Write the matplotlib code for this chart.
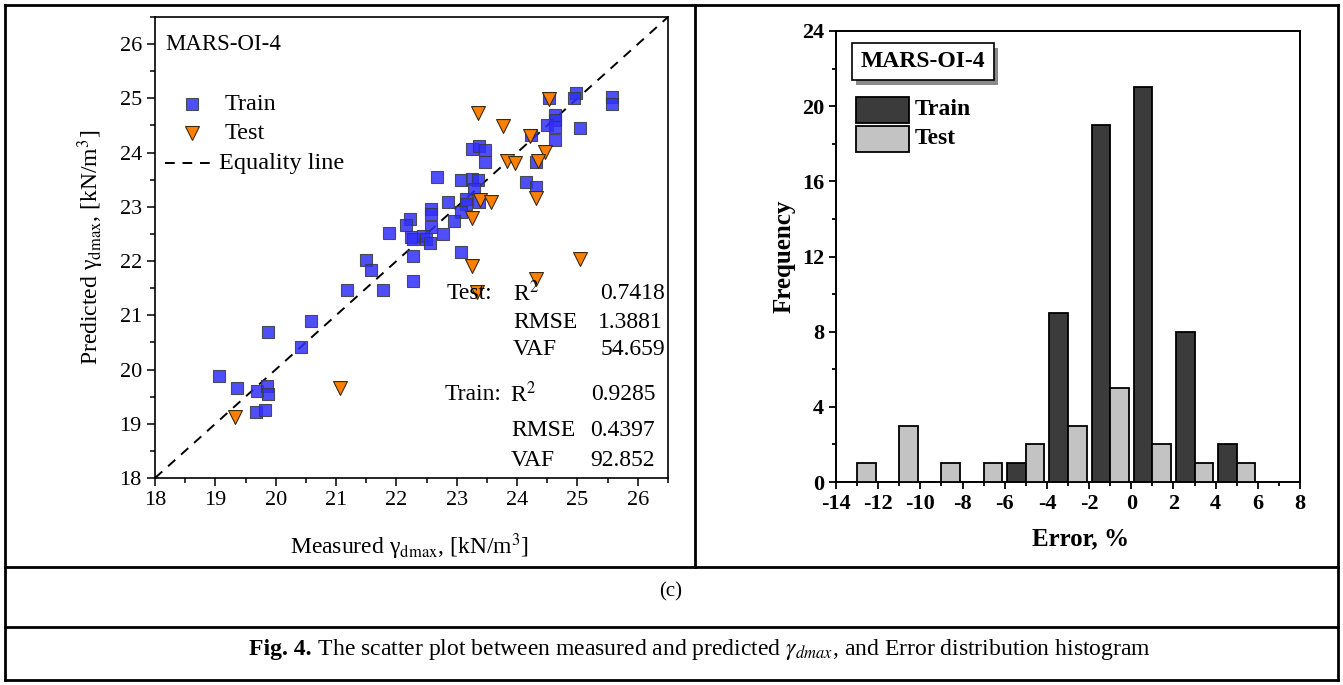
import numpy as np
import matplotlib
matplotlib.use("Agg")
import matplotlib.pyplot as plt
from matplotlib.lines import Line2D
from matplotlib.patches import Rectangle
from matplotlib.ticker import MultipleLocator

# measured vs predicted max dry unit weight, kN/m3
train_measured = [24.97, 24.94, 25.58, 25.58, 24.53, 24.63, 24.63, 24.50, 24.63, 25.05,
                  24.63, 24.23, 23.26, 23.37, 23.47, 23.47, 24.31, 22.67, 23.07, 23.25,
                  23.36, 23.29, 24.15, 24.32, 22.86, 23.15, 23.16, 23.37, 23.07, 22.96,
                  22.57, 22.57, 22.57, 22.23, 22.16, 21.87, 22.24, 22.27, 22.44, 22.49,
                  22.55, 22.77, 23.07, 22.27, 21.49, 21.58, 22.27, 21.18, 21.77, 20.58,
                  20.42, 19.88, 19.06, 19.36, 19.69, 19.86, 19.87, 19.67, 19.82]
train_predicted = [25.10, 25.01, 25.02, 24.90, 25.00, 24.70, 24.61, 24.50, 24.47, 24.46,
                   24.23, 24.32, 24.07, 24.12, 24.04, 23.83, 23.83, 23.55, 23.49, 23.51,
                   23.49, 23.32, 23.46, 23.37, 23.09, 23.14, 23.06, 23.08, 22.91, 22.73,
                   22.96, 22.87, 22.63, 22.77, 22.67, 22.51, 22.45, 22.41, 22.47, 22.41,
                   22.33, 22.50, 22.17, 22.09, 22.02, 21.84, 21.63, 21.46, 21.46, 20.90,
                   20.41, 20.69, 19.88, 19.66, 19.60, 19.70, 19.54, 19.22, 19.26]
test_measured = [24.53, 23.36, 23.76, 24.21, 24.46, 24.34, 23.84, 23.97, 24.31, 23.39,
                 23.56, 23.26, 23.26, 24.31, 25.05, 23.34, 21.07, 19.33]
test_predicted = [24.98, 24.73, 24.49, 24.31, 24.02, 23.85, 23.85, 23.80, 23.17, 23.13,
                  23.08, 22.80, 21.90, 21.67, 22.04, 21.43, 19.66, 19.13]

stats_test = {"R2": "0.7418", "RMSE": "1.3881", "VAF": "54.659"}
stats_train = {"R2": "0.9285", "RMSE": "0.4397", "VAF": "92.852"}

# error histogram (bins of 2 %)
bin_centers = np.array([-13, -11, -9, -7, -5, -3, -1, 1, 3, 5])
train_freq = [0, 0, 0, 0, 1, 9, 19, 21, 8, 2]
test_freq = [1, 3, 1, 1, 2, 3, 5, 2, 1, 1]

plt.rcParams["font.family"] = "Liberation Serif"
plt.rcParams["mathtext.fontset"] = "stix"
plt.rcParams["axes.unicode_minus"] = False

W, H = 1343, 685
fig = plt.figure(figsize=(W / 100, H / 100), dpi=100)


def fx(x):
    return x / W


def fy(y):
    return 1 - y / H


# ---- scatter panel ----
ax = fig.add_axes([fx(155), fy(478), (668 - 155) / W, (478 - 17) / H])
ax.scatter(train_measured, train_predicted, marker="s", s=72, color="#3030fa",
           alpha=0.85, edgecolors="#3a3a3a", linewidths=0.8, zorder=3)
ax.scatter(test_measured, test_predicted, marker="v", s=100, color="#ff8000",
           edgecolors="#3a2a10", linewidths=0.8, zorder=4)
ax.plot([18, 26.5], [18, 26.5], color="black", lw=1.4, ls=(0, (5, 4)), zorder=2)
ax.set_xlim(18, 26.5)
ax.set_ylim(18, 26.5)
ax.xaxis.set_major_locator(MultipleLocator(1))
ax.yaxis.set_major_locator(MultipleLocator(1))
ax.xaxis.set_minor_locator(MultipleLocator(0.5))
ax.yaxis.set_minor_locator(MultipleLocator(0.5))
ax.tick_params(which="major", direction="out", length=6, width=1.1, labelsize=16)
ax.tick_params(which="minor", direction="out", length=3.5, width=1.1)
for s in ax.spines.values():
    s.set_linewidth(1.2)
ax.set_xlabel("Measured γ$_{\\rm dmax}$, [kN/m$^3$]", fontsize=17)
ax.set_ylabel("Predicted γ$_{\\rm dmax}$, [kN/m$^3$]", fontsize=17)
ax.xaxis.set_label_coords(0.497, -0.115)
ax.yaxis.set_label_coords(-0.095, 0.5)

ax.text(0.0195, 0.941, "MARS-OI-4", transform=ax.transAxes, fontsize=16.5, va="center")
# legend entries
ax.plot([0.072], [0.811], marker="s", ms=8.5, color="#3030fa", mec="#3a3a3a", mew=0.8,
        alpha=0.85, transform=ax.transAxes, clip_on=False)
ax.text(0.136, 0.811, "Train", transform=ax.transAxes, fontsize=17.5, va="center")
ax.plot([0.072], [0.748], marker="v", ms=10, color="#ff8000", mec="#3a2a10", mew=0.8,
        transform=ax.transAxes, clip_on=False)
ax.text(0.136, 0.748, "Test", transform=ax.transAxes, fontsize=17.5, va="center")
ax.plot([0.0195, 0.107], [0.683, 0.683], color="black", lw=1.4, ls=(0, (5, 4)),
        transform=ax.transAxes)
ax.text(0.125, 0.683, "Equality line", transform=ax.transAxes, fontsize=17.5, va="center")

# goodness-of-fit summary
st = dict(transform=ax.transAxes, fontsize=17, va="center", zorder=5)
ax.text(0.569, 0.401, "Test:", **st)
ax.text(0.698, 0.401, "R$^2$", **st)
ax.text(0.994, 0.401, stats_test["R2"], ha="right", **st)
ax.text(0.698, 0.338, "RMSE", **st)
ax.text(0.990, 0.338, stats_test["RMSE"], ha="right", **st)
ax.text(0.698, 0.278, "VAF", **st)
ax.text(0.994, 0.278, stats_test["VAF"], ha="right", **st)
ax.text(0.565, 0.182, "Train:", **st)
ax.text(0.692, 0.182, "R$^2$", **st)
ax.text(0.975, 0.182, stats_train["R2"], ha="right", **st)
ax.text(0.694, 0.102, "RMSE", **st)
ax.text(0.975, 0.102, stats_train["RMSE"], ha="right", **st)
ax.text(0.694, 0.039, "VAF", **st)
ax.text(0.975, 0.039, stats_train["VAF"], ha="right", **st)

# ---- histogram panel ----
bw = 0.88
ah = fig.add_axes([fx(836), fy(482), (1300 - 836) / W, (482 - 31) / H])
ah.bar(bin_centers - bw, train_freq, width=bw, align="edge", color="#3b3b3b",
       edgecolor="black", linewidth=1.3, zorder=3)
ah.bar(bin_centers, test_freq, width=bw, align="edge", color="#c3c3c3",
       edgecolor="black", linewidth=1.3, zorder=3)
ah.set_xlim(-14, 8)
ah.set_ylim(0, 24)
ah.xaxis.set_major_locator(MultipleLocator(2))
ah.xaxis.set_minor_locator(MultipleLocator(1))
ah.yaxis.set_major_locator(MultipleLocator(4))
ah.yaxis.set_minor_locator(MultipleLocator(2))
ah.tick_params(which="major", direction="out", length=5, width=1.3, labelsize=16)
ah.tick_params(which="minor", direction="out", length=3, width=1.3)
for lab in ah.get_xticklabels() + ah.get_yticklabels():
    lab.set_fontweight("bold")
for s in ah.spines.values():
    s.set_linewidth(1.4)
ah.set_xlabel("Error, %", fontsize=18, fontweight="bold")
ah.set_ylabel("Frequency", fontsize=18, fontweight="bold")
ah.xaxis.set_label_coords(0.526, -0.1)
ah.yaxis.set_label_coords(-0.088, 0.5)

# title box with drop shadow
ah.add_patch(Rectangle((0.0345 + 0.008, 0.891 - 0.01), 0.306, 0.082, transform=ah.transAxes,
                       facecolor="#8a8a8a", edgecolor="none", zorder=4, clip_on=False))
ah.add_patch(Rectangle((0.0345, 0.891), 0.306, 0.082, transform=ah.transAxes,
                       facecolor="white", edgecolor="black", linewidth=1.2, zorder=5))
ah.text(0.1875, 0.932, "MARS-OI-4", transform=ah.transAxes, fontsize=17,
        fontweight="bold", ha="center", va="center", zorder=6)
ah.add_patch(Rectangle((0.043, 0.796), 0.114, 0.058, transform=ah.transAxes,
                       facecolor="#3b3b3b", edgecolor="black", linewidth=1.3, zorder=5))
ah.add_patch(Rectangle((0.043, 0.732), 0.114, 0.058, transform=ah.transAxes,
                       facecolor="#c3c3c3", edgecolor="black", linewidth=1.3, zorder=5))
ah.text(0.170, 0.825, "Train", transform=ah.transAxes, fontsize=17, fontweight="bold",
        va="center")
ah.text(0.170, 0.761, "Test", transform=ah.transAxes, fontsize=17, fontweight="bold",
        va="center")

# ---- table frame and caption ----
lw = 2.0
frame = [((5, 5), (1338, 5)), ((5, 680), (1338, 680)), ((5, 5), (5, 680)),
         ((1338, 5), (1338, 680)), ((695, 5), (695, 567)),
         ((5, 567), (1338, 567)), ((5, 627), (1338, 627))]
for (x0, y0), (x1, y1) in frame:
    fig.add_artist(Line2D([fx(x0), fx(x1)], [fy(y0), fy(y1)], color="black", lw=lw))

fig.text(fx(671), fy(592), "(c)", fontsize=15, ha="center", va="center")

t1 = fig.text(0, fy(650), "Fig. 4.", fontsize=17, fontweight="bold", va="center")
t2 = fig.text(0, fy(650), " The scatter plot between measured and predicted $\\gamma_{dmax}$,"
              " and Error distribution histogram", fontsize=17, va="center")
fig.canvas.draw()
r = fig.canvas.get_renderer()
w1 = t1.get_window_extent(r).width
w2 = t2.get_window_extent(r).width
x_start = 700 - (w1 + w2) / 2
t1.set_x(fx(x_start))
t2.set_x(fx(x_start + w1))

fig.savefig("out.png", dpi=100)
